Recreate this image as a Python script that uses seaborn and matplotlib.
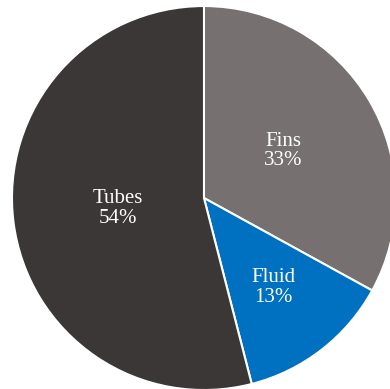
import numpy as np
import seaborn as sns
import matplotlib
matplotlib.use("Agg")
import matplotlib.pyplot as plt

labels = ["Fins", "Fluid", "Tubes"]
shares = [33, 13, 54]
colors = ["#767170", "#0070C0", "#3A3736"]
label_dist = [0.48, 0.59, 0.45]

sns.set_style("white")
plt.rcParams["font.family"] = ["Liberation Serif", "DejaVu Serif"]

fig = plt.figure(figsize=(3.9, 3.89), dpi=100)
ax = fig.add_axes([0.523 - 0.4923, 0.491 - 0.4936, 0.9846, 0.9871])

wedges, _ = ax.pie(shares, colors=colors, startangle=90, counterclock=False,
                   radius=1, wedgeprops=dict(edgecolor="white", linewidth=1.5))

for w, lab, val, d in zip(wedges, labels, shares, label_dist):
    ang = np.deg2rad((w.theta1 + w.theta2) / 2)
    ax.text(d * np.cos(ang), d * np.sin(ang), f"{lab}\n{val}%", color="white",
            ha="center", va="center", fontsize=15, linespacing=1.05)

ax.set_xlim(-1, 1)
ax.set_ylim(-1, 1)
ax.set_aspect("equal")
ax.axis("off")

fig.savefig("out.png", dpi=100)
